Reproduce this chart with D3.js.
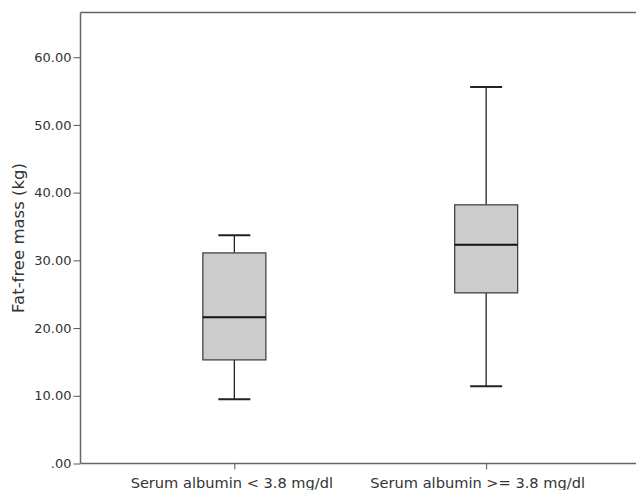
<!DOCTYPE html>
<meta charset="utf-8">
<style>
    body { margin: 0; background: #fff; overflow: hidden; }
    .axis text { font-family: "DejaVu Sans", sans-serif; fill: #333; }
    .axis path, .axis line { stroke: #555; }
</style>
<div class="chart"></div>
<script src="https://cdn.jsdelivr.net/npm/d3@7"></script>
<script>
    // categories and five-number summaries
    var groups = ["Serum albumin < 3.8 mg/dl", "Serum albumin >= 3.8 mg/dl"];
    var lowWhisker = [9.5, 11.4];
    var q1 = [15.3, 25.2];
    var median = [21.6, 32.3];
    var q3 = [31.1, 38.2];
    var highWhisker = [33.7, 55.6];
    var yTicks = [0, 10, 20, 30, 40, 50, 60];

    var svgW = 636, svgH = 490;
    var margin = {top: 12.5, right: -4, bottom: 26.5, left: 80.5};

    var data = groups.map(function(g, i) {
        return {group: g, lo: lowWhisker[i], q1: q1[i], med: median[i], q3: q3[i], hi: highWhisker[i]};
    });

    var svg = d3.select(".chart").append("svg")
        .attr("width", svgW)
        .attr("height", svgH)
        .style("display", "block");

    var x = d3.scalePoint()
        .domain(groups)
        .range([margin.left, svgW - margin.right])
        .padding(0.611);

    var y = d3.scaleLinear()
        .domain([0, 66.6])
        .range([svgH - margin.bottom, margin.top]);

    var boxW = 63, capW = 32;

    // frame: top, left, bottom (right edge lies past the window)
    var frame = svg.append("g").attr("stroke", "#666").attr("stroke-width", 1.5);
    frame.append("line").attr("x1", margin.left).attr("x2", svgW).attr("y1", margin.top).attr("y2", margin.top);
    frame.append("line").attr("x1", margin.left).attr("x2", margin.left).attr("y1", margin.top).attr("y2", y(0));
    frame.append("line").attr("x1", margin.left).attr("x2", svgW).attr("y1", y(0)).attr("y2", y(0));

    // y axis
    var yAxis = d3.axisLeft(y)
        .tickValues(yTicks)
        .tickSize(7)
        .tickPadding(2)
        .tickFormat(function(d) { return d === 0 ? ".00" : d3.format(".2f")(d); });

    svg.append("g")
        .attr("class", "axis")
        .attr("transform", "translate(" + margin.left + ",0)")
        .call(yAxis)
        .call(function(g) { g.select(".domain").remove(); })
        .selectAll("text")
        .style("font-size", "13px");

    // x axis
    var xAxis = d3.axisBottom(x).tickSize(6).tickPadding(8);
    svg.append("g")
        .attr("class", "axis")
        .attr("transform", "translate(0," + y(0) + ")")
        .call(xAxis)
        .call(function(g) { g.select(".domain").remove(); })
        .selectAll("text")
        .style("font-size", "14.6px")
        .attr("dx", function(d, i) { return i === 0 ? -3 : -9; });

    // y title
    svg.append("text")
        .attr("transform", "translate(24," + (margin.top + y(0)) / 2 + ") rotate(-90)")
        .attr("text-anchor", "middle")
        .style("font-family", "DejaVu Sans, sans-serif")
        .style("font-size", "16.5px")
        .attr("fill", "#333")
        .text("Fat-free mass (kg)");

    // boxes
    var box = svg.selectAll(".box")
        .data(data)
        .enter().append("g")
        .attr("class", "box");

    box.append("line")
        .attr("x1", function(d) { return x(d.group); })
        .attr("x2", function(d) { return x(d.group); })
        .attr("y1", function(d) { return y(d.hi); })
        .attr("y2", function(d) { return y(d.q3); })
        .attr("stroke", "#222").attr("stroke-width", 1.3);

    box.append("line")
        .attr("x1", function(d) { return x(d.group); })
        .attr("x2", function(d) { return x(d.group); })
        .attr("y1", function(d) { return y(d.q1); })
        .attr("y2", function(d) { return y(d.lo); })
        .attr("stroke", "#222").attr("stroke-width", 1.3);

    ["hi", "lo"].forEach(function(k) {
        box.append("line")
            .attr("x1", function(d) { return x(d.group) - capW / 2; })
            .attr("x2", function(d) { return x(d.group) + capW / 2; })
            .attr("y1", function(d) { return y(d[k]); })
            .attr("y2", function(d) { return y(d[k]); })
            .attr("stroke", "#222").attr("stroke-width", 2);
    });

    box.append("rect")
        .attr("x", function(d) { return x(d.group) - boxW / 2; })
        .attr("width", boxW)
        .attr("y", function(d) { return y(d.q3); })
        .attr("height", function(d) { return y(d.q1) - y(d.q3); })
        .attr("fill", "#cccccc")
        .attr("stroke", "#444")
        .attr("stroke-width", 1.3);

    box.append("line")
        .attr("x1", function(d) { return x(d.group) - boxW / 2; })
        .attr("x2", function(d) { return x(d.group) + boxW / 2; })
        .attr("y1", function(d) { return y(d.med); })
        .attr("y2", function(d) { return y(d.med); })
        .attr("stroke", "#111").attr("stroke-width", 2);
</script>
